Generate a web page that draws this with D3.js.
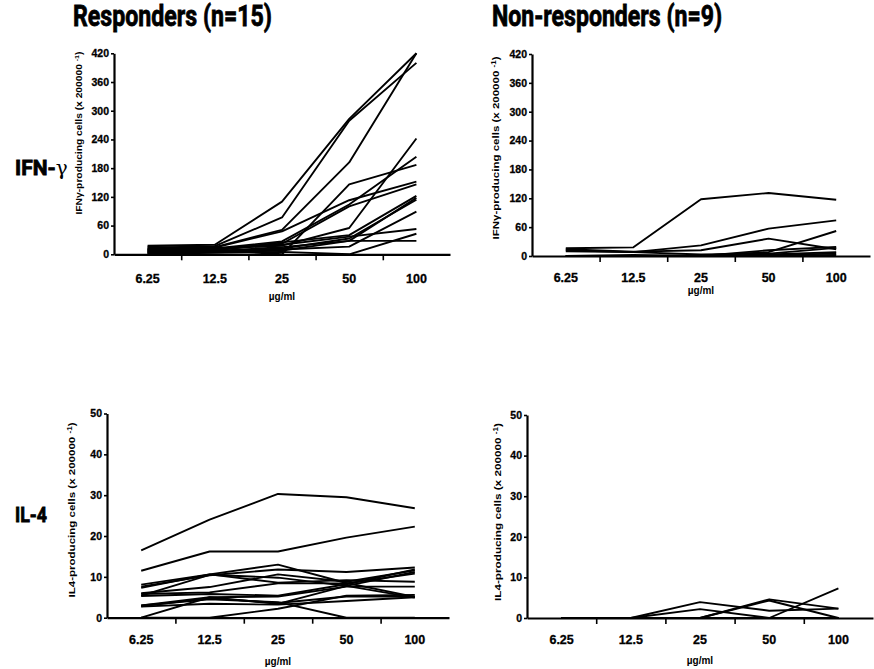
<!DOCTYPE html>
<html>
<head>
<meta charset="utf-8">
<script src="https://cdn.jsdelivr.net/npm/d3@7"></script>
<style>
body { margin: 0; background: #fff; }
svg { display: block; }
.tick text { font-family: "Liberation Sans", Arial, sans-serif; font-weight: bold; fill: #000; stroke: #000; stroke-width: 0.3px; }
.head { font-family: "Liberation Sans Narrow", "Arial Narrow", "Roboto", sans-serif; font-weight: bold; fill: #000; stroke: #000; stroke-width: 0.8px; }
.ylab, .unit { font-family: "Liberation Sans", Arial, sans-serif; font-weight: bold; fill: #000; }
</style>
</head>
<body>
<svg id="fig"></svg>
<script>
const doses = ["6.25", "12.5", "25", "50", "100"];
const ifnTicks = [0, 60, 120, 180, 240, 300, 360, 420];
const il4Ticks = [0, 10, 20, 30, 40, 50];

// spots per dose, one row per patient
const respIfn = [
  [18, 20, 110, 283, 420],
  [14, 17, 77, 279, 400],
  [12, 15, 51, 192, 420],
  [6, 9, 0, 146, 187],
  [10, 14, 48, 113, 152],
  [16, 12, 27, 104, 204],
  [9, 11, 22, 100, 146],
  [8, 13, 18, 55, 242],
  [5, 8, 25, 40, 122],
  [4, 7, 15, 28, 118],
  [3, 6, 12, 33, 114],
  [11, 10, 20, 37, 53],
  [7, 5, 10, 16, 89],
  [2, 4, 8, 28, 28],
  [1, 3, 5, 0, 43]
];
const nonIfn = [
  [16, 18, 118, 131, 117],
  [12, 8, 22, 57, 74],
  [14, 9, 12, 36, 14],
  [0, 0, 1, 8, 52],
  [0, 2, 0, 12, 19],
  [10, 8, 3, 5, 17],
  [0, 0, 0, 3, 8],
  [0, 0, 0, 2, 5],
  [0, 0, 0, 0, 2]
];
const respIl4 = [
  [16.5, 24, 30.3, 29.5, 26.8],
  [11.5, 16.2, 16.2, 19.6, 22.3],
  [8.1, 10.6, 13, 8.5, 5.1],
  [7.6, 10.4, 11.8, 11.2, 12.3],
  [7.3, 10.6, 8.6, 9.2, 8.8],
  [6, 7.5, 10.6, 8.8, 11.6],
  [5.8, 6.2, 8.4, 8.4, 10.8],
  [5.4, 10.5, 9.8, 7.8, 4.9],
  [5.3, 5.8, 5.4, 8.2, 11.8],
  [3, 5, 5.2, 7.6, 7.6],
  [2.8, 4.8, 3.6, 5.2, 5.2],
  [2.7, 3.4, 3.2, 4.1, 5],
  [3, 4.5, 3.8, 0, 0],
  [0, 5, 3.4, 7.8, 11.2],
  [0, 0, 2.2, 5.4, 5.6]
];
const nonIl4 = [
  [0, 0, 3.9, 1.8, 2.3],
  [0, 0, 2.2, 0, 0],
  [0, 0, 0, 4.6, 2.3],
  [0, 0, 0, 0, 7.3],
  [0, 0, 0, 4.3, 0],
  [0, 0, 0, 0, 0],
  [0, 0, 0, 0, 0],
  [0, 0, 0, 0, 0],
  [0, 0, 0, 0, 0]
];

const width = 874;
const height = 669;

const svg = d3.select("#fig")
    .attr("width", width)
    .attr("height", height);

// column titles and row labels
svg.append("text").attr("class", "head")
    .attr("x", 73).attr("y", 26)
    .attr("font-size", 29)
    .attr("textLength", 199).attr("lengthAdjust", "spacingAndGlyphs")
    .text("Responders (n=15)");

svg.append("text").attr("class", "head")
    .attr("x", 492).attr("y", 26)
    .attr("font-size", 29)
    .attr("textLength", 230).attr("lengthAdjust", "spacingAndGlyphs")
    .text("Non-responders (n=9)");

var ifnLab = svg.append("text").attr("class", "head")
    .attr("x", 15).attr("y", 175)
    .attr("font-size", 21);
ifnLab.append("tspan").text("IFN-");
ifnLab.append("tspan")
    .attr("font-family", "'DejaVu Serif', serif")
    .attr("font-weight", "normal")
    .attr("stroke-width", 0)
    .attr("font-size", 20)
    .text("γ");

svg.append("text").attr("class", "head")
    .attr("x", 15).attr("y", 522)
    .attr("font-size", 21)
    .attr("textLength", 32).attr("lengthAdjust", "spacingAndGlyphs")
    .text("IL-4");

function drawPanel(p) {
    const x = d3.scaleBand().domain(doses).range([p.left, p.right]);
    // edges between doses, for the tick marks
    const edge = d3.scaleLinear().domain([0, doses.length]).range([p.left, p.right]);
    const y = d3.scaleLinear().domain([0, p.ticks[p.ticks.length - 1]]).range([p.bottom, p.top]);

    const g = svg.append("g");

    const xTicks = g.append("g")
        .attr("transform", "translate(0," + p.bottom + ")")
        .call(d3.axisBottom(edge)
            .tickValues(d3.range(1, doses.length))
            .tickSize(6)
            .tickSizeOuter(0)
            .tickFormat(""));
    xTicks.select(".domain").attr("stroke-width", 2.2);
    xTicks.selectAll(".tick line").attr("stroke-width", 1.6);

    const xLabels = g.append("g")
        .attr("transform", "translate(0," + p.labelY + ")")
        .call(d3.axisBottom(x).tickSize(0).tickPadding(0));
    xLabels.select(".domain").remove();
    xLabels.selectAll("text")
        .attr("y", 0).attr("dy", 0)
        .attr("font-size", 12.5);

    const yAxis = g.append("g")
        .attr("transform", "translate(" + p.left + ",0)")
        .call(d3.axisLeft(y)
            .tickValues(p.ticks)
            .tickSize(3)
            .tickSizeOuter(0)
            .tickPadding(2));
    yAxis.select(".domain").attr("stroke-width", 2.2);
    yAxis.selectAll(".tick line").attr("stroke-width", 1.6);
    yAxis.selectAll("text").attr("font-size", 10.5);

    g.append("text").attr("class", "unit")
        .attr("x", (p.left + p.right) / 2)
        .attr("y", p.unitY)
        .attr("text-anchor", "middle")
        .attr("font-size", 10)
        .text("\u00b5g/ml");

    const yl = g.append("text").attr("class", "ylab")
        .attr("transform", "translate(" + p.labX + "," + p.labY + ") rotate(-90)")
        .attr("text-anchor", "middle")
        .attr("font-size", p.labSize)
        .attr("textLength", p.labLen).attr("lengthAdjust", "spacingAndGlyphs");
    yl.append("tspan").text(p.labText + " (x 200000 ");
    yl.append("tspan").attr("font-size", p.labSize * 0.7).attr("dy", -3).text("-1");
    yl.append("tspan").attr("dy", 3).text(")");

    const line = d3.line()
        .x((d, i) => x(doses[i]) + x.bandwidth() / 2)
        .y(d => y(d));

    g.append("g").selectAll("path")
        .data(p.series)
        .enter().append("path")
        .attr("d", line)
        .attr("fill", "none")
        .attr("stroke", "#000")
        .attr("stroke-width", 1.9)
        .attr("stroke-linejoin", "round");
}

drawPanel({ series: respIfn, ticks: ifnTicks, left: 114, right: 450, top: 53.3, bottom: 254.3,
    labelY: 282.5, unitY: 300, labX: 82, labY: 133, labLen: 163, labSize: 8.5, labText: "IFN\u03b3-producing cells" });
drawPanel({ series: nonIfn, ticks: ifnTicks, left: 532, right: 870, top: 54, bottom: 256,
    labelY: 281.5, unitY: 294, labX: 499, labY: 148, labLen: 183, labSize: 9.5, labText: "IFN\u03b3-producing cells" });
drawPanel({ series: respIl4, ticks: il4Ticks, left: 107, right: 449, top: 413.5, bottom: 617.7,
    labelY: 644, unitY: 665, labX: 75, labY: 510, labLen: 175, labSize: 9, labText: "IL4-producing cells" });
drawPanel({ series: nonIl4, ticks: il4Ticks, left: 527, right: 873, top: 415, bottom: 618,
    labelY: 643.5, unitY: 664, labX: 501, labY: 512, labLen: 178, labSize: 9, labText: "IL4-producing cells" });
</script>
</body>
</html>
